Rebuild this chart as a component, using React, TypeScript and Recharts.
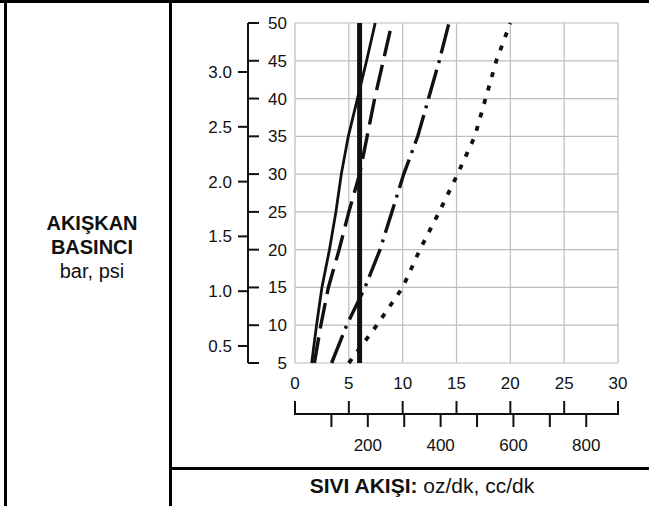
import React from 'react'
import { LineChart, Line, XAxis, YAxis, CartesianGrid } from 'recharts'

// pressure (psi) on the vertical axis, flow (oz/dk) on the horizontal one
const psiValues = [5, 10, 15, 20, 25, 30, 35, 40, 45, 50]
const thickFlow = [6, 6, 6, 6, 6, 6, 6, 6, 6, 6]
const solidFlow = [1.55, 2.0, 2.5, 3.2, 3.8, 4.3, 4.95, 5.8, 6.65, 7.45]
const dashedFlow = [1.8, 2.4, 3.1, 4.1, 5.0, 6.0, 6.7, 7.4, 8.2, 9.0]
const dashDotFlow = [3.4, 4.8, 6.5, 7.9, 9.0, 10.1, 11.4, 12.4, 13.4, 14.3]
const dottedFlow = [5.0, 7.6, 10.0, 11.6, 13.4, 15.1, 16.7, 17.7, 18.7, 20.0]

const ozTicks = [0, 5, 10, 15, 20, 25, 30]
const ccTicks = [100, 200, 300, 400, 500, 600, 700, 800]
const ccLabels = [200, 400, 600, 800]
const barTicks = [0.5, 1.0, 1.5, 2.0, 2.5, 3.0]

const CC_PER_OZ = 29.5735
const PSI_PER_BAR = 14.5038

const data = psiValues.map((psi, i) => ({
  psi,
  thick: thickFlow[i],
  solid: solidFlow[i],
  dashed: dashedFlow[i],
  dashDot: dashDotFlow[i],
  dotted: dottedFlow[i],
}))

// bar ticks placed on the psi scale
const barTicksInPsi = barTicks.map((b) => b * PSI_PER_BAR)

const FONT = '"Liberation Sans", Arial, Helvetica, sans-serif'
const INK = '#111'

function PsiTick({ x, y, payload }: any) {
  return (
    <g>
      <line x1={x - 47} x2={x - 36} y1={y} y2={y} stroke={INK} strokeWidth={2} />
      <text x={x - 8} y={y} dy={6} textAnchor="end" fontSize={17} fill={INK} fontFamily={FONT}>
        {payload.value}
      </text>
    </g>
  )
}

function OzTick({ x, y, payload }: any) {
  return (
    <g>
      <text x={x} y={y + 26} textAnchor="middle" fontSize={17} fill={INK} fontFamily={FONT}>
        {payload.value}
      </text>
      <line x1={x} x2={x} y1={y + 38} y2={y + 52} stroke={INK} strokeWidth={2} />
    </g>
  )
}

function CcTick({ x, y, payload }: any) {
  if (!ccLabels.includes(payload.value)) return null
  return (
    <text x={x} y={y + 24} textAnchor="middle" fontSize={17} fill={INK} fontFamily={FONT}>
      {payload.value}
    </text>
  )
}

export default function App() {
  return (
    <div style={{ position: 'relative', width: 649, height: 506, background: '#fff', fontFamily: FONT, color: INK }}>
      <style>{'body{margin:0}'}</style>

      {/* table lines */}
      <div style={{ position: 'absolute', left: 0, top: 0, width: 649, height: 3, background: '#000' }} />
      <div style={{ position: 'absolute', left: 4, top: 0, width: 3, height: 506, background: '#000' }} />
      <div style={{ position: 'absolute', left: 169, top: 0, width: 3, height: 506, background: '#000' }} />
      <div style={{ position: 'absolute', left: 171, top: 467, width: 478, height: 3, background: '#000' }} />

      {/* left cell */}
      <div style={{ position: 'absolute', left: 0, top: 211, width: 184, textAlign: 'center', fontSize: 20, lineHeight: '24px' }}>
        <div style={{ fontWeight: 700 }}>AKIŞKAN</div>
        <div style={{ fontWeight: 700 }}>BASINCI</div>
        <div>bar, psi</div>
      </div>

      {/* bottom cell */}
      <div style={{ position: 'absolute', left: 222, top: 473, width: 400, textAlign: 'center', fontSize: 21, lineHeight: '26px' }}>
        <b>SIVI AKIŞI:</b> oz/dk, cc/dk
      </div>

      <div style={{ position: 'absolute', left: 0, top: 0 }}>
        <LineChart
          width={649}
          height={506}
          data={data}
          layout="vertical"
          margin={{ top: 23, right: 31, left: 188, bottom: 42 }}
        >
          <CartesianGrid
            xAxisId="x1"
            yAxisId="y1"
            stroke="#bdbdbd"
            strokeWidth={1.2}
          />
          <XAxis
            xAxisId="x2"
            type="number"
            domain={[0, 30 * CC_PER_OZ]}
            allowDataOverflow
            ticks={ccTicks}
            interval={0}
            height={50}
            axisLine={{ stroke: INK, strokeWidth: 2 }}
            tickLine={{ stroke: INK, strokeWidth: 2 }}
            tickSize={13}
            tickMargin={0}
            tick={<CcTick />}
          />
          <XAxis
            xAxisId="x1"
            type="number"
            domain={[0, 30]}
            ticks={ozTicks}
            interval={0}
            height={51}
            axisLine={false}
            tickLine={false}
            tickSize={0}
            tickMargin={0}
            tick={<OzTick />}
          />
          <YAxis
            yAxisId="y2"
            type="number"
            dataKey="psi"
            domain={[5, 50]}
            reversed
            ticks={barTicksInPsi}
            interval={0}
            width={60}
            axisLine={{ stroke: INK, strokeWidth: 2 }}
            tickLine={{ stroke: INK, strokeWidth: 2 }}
            tickSize={10}
            tickMargin={6}
            tickFormatter={(v: number) => (v / PSI_PER_BAR).toFixed(1)}
            tick={{ fontSize: 17, fill: INK, fontFamily: FONT }}
          />
          <YAxis
            yAxisId="y1"
            type="number"
            dataKey="psi"
            domain={[5, 50]}
            reversed
            ticks={psiValues}
            interval={0}
            width={47}
            axisLine={false}
            tickLine={false}
            tickSize={0}
            tickMargin={0}
            tick={<PsiTick />}
          />
          <Line xAxisId="x1" yAxisId="y1" dataKey="solid" type="linear" stroke={INK} strokeWidth={2.8} dot={false} isAnimationActive={false} />
          <Line xAxisId="x1" yAxisId="y1" dataKey="dashed" type="linear" stroke={INK} strokeWidth={3.4} strokeDasharray="26 9" dot={false} isAnimationActive={false} />
          <Line xAxisId="x1" yAxisId="y1" dataKey="dashDot" type="linear" stroke={INK} strokeWidth={3.4} strokeDasharray="30 7 3 7" dot={false} isAnimationActive={false} />
          <Line xAxisId="x1" yAxisId="y1" dataKey="dotted" type="linear" stroke={INK} strokeWidth={3.8} strokeDasharray="5 9" dot={false} isAnimationActive={false} />
          <Line xAxisId="x1" yAxisId="y1" dataKey="thick" type="linear" stroke={INK} strokeWidth={5} dot={false} isAnimationActive={false} />
        </LineChart>
      </div>
    </div>
  )
}
